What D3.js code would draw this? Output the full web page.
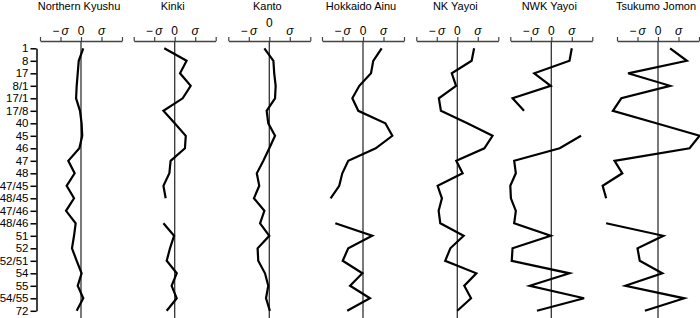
<!DOCTYPE html>
<html>
<head>
<meta charset="utf-8">
<script src="https://cdn.jsdelivr.net/npm/d3@7"></script>
<style>
  body { margin: 0; background: #fff; }
  svg { font-family: Arial, "Liberation Sans", sans-serif; }
</style>
</head>
<body>
<div id="chart"></div>
<script>
// row categories (top to bottom)
var rows = ["1", "8", "17", "8/1", "17/1", "17/8", "40", "45", "46", "47", "48",
    "47/45", "48/45", "47/46", "48/46", "51", "52", "52/51", "54", "55", "54/55", "72"];

var panels = ["Northern Kyushu", "Kinki", "Kanto", "Hokkaido Ainu", "NK Yayoi", "NWK Yayoi", "Tsukumo Jomon"];

var tickLabels = ["\u2212\u2009\u03c3", "0", "\u03c3"];
var tickValues = [-1, 0, 1];

// values in sigma units, null = no data
var northernKyushu = [0.11, -0.11, -0.16, -0.21, -0.24, -0.05, 0.03, 0.06, -0.08, -0.62, -0.31,
    -0.7, -0.34, -0.73, -0.26, -0.34, -0.44, -0.21, 0.03, -0.16, 0.11, -0.21];
var kinki = [-0.51, 0.58, 0.26, 0.78, 0.39, -0.55, 0, 0.54, 0.5, -0.2, -0.26,
    -0.55, -0.44, null, -0.55, -0.03, -0.23, -0.39, 0.1, -0.15, 0.1, -0.39];
var kanto = [-0.24, 0.2, 0.24, 0.31, 0.28, -0.13, -0.05, 0.28, 0, -0.29, -0.61,
    -0.49, -0.75, -0.24, -0.45, 0, -0.57, -0.54, -0.21, -0.05, -0.16, 0.03];
var hokkaidoAinu = [0.91, 0.5, 0.39, -0.18, -0.52, -0.23, 1.09, 1.43, 0.62, -0.72, -1.01,
    -1.16, -1.58, null, -1.35, 0.45, -0.72, -0.99, -0.03, -0.63, 0.34, -0.77];
var nkYayoi = [0.82, 0.7, -0.27, -0.06, -0.9, -0.8, 0.49, 1.72, 1.32, -0.05, 0.26,
    -0.96, -0.75, -0.91, -0.83, 0.31, -0.34, -0.59, 0.93, 0.34, 0.67, 0];
var nwkYayoi = [1.0, 0.89, -0.83, -0.03, -1.89, -1.33, null, 1.45, 0.41, -1.81, -1.73,
    -2.0, -1.97, -1.73, -1.81, -0.03, -1.89, -1.93, 0.89, -1.05, 1.6, -0.7];
var tsukumoJomon = [0.59, 1.41, -1.46, 0.59, -1.79, -2.2, -0.08, 2.03, 1.54, -2.12, -1.74,
    -2.7, -2.53, null, -2.53, 0.26, -1.0, -0.89, 0.21, -1.59, 1.28, -0.64];

var series = [northernKyushu, kinki, kanto, hokkaidoAinu, nkYayoi, nwkYayoi, tsukumoJomon];

// layout
var W = 700, H = 318;
var zeroX = [81, 174.7, 269.3, 363, 457.3, 551.3, 658];
var sigmaPx = 20.5;
var axisY = 41;

var svg = d3.select("#chart").append("svg")
    .attr("width", W)
    .attr("height", H);

var y = d3.scalePoint()
    .domain(rows)
    .range([48.3, 310.8]);

// left row axis
var yAxis = svg.append("g")
    .attr("transform", "translate(36.5,0)")
    .call(d3.axisLeft(y).tickSize(6).tickPadding(2).tickSizeOuter(0));
yAxis.select(".domain").attr("stroke", "#000").attr("stroke-width", 1.5);
yAxis.selectAll(".tick line").attr("stroke", "#000").attr("stroke-width", 1.5);
yAxis.selectAll(".tick text")
    .attr("font-size", "11.5px")
    .attr("fill", "#000");

panels.forEach(function (name, i) {
    var z = zeroX[i];
    var x = d3.scaleLinear()
        .domain([-2, 2])
        .range([z - 2 * sigmaPx, z + 2 * sigmaPx]);

    var g = svg.append("g");

    // title (keep inside the right edge)
    var title = g.append("text")
        .attr("x", z - 2)
        .attr("y", 10)
        .attr("text-anchor", "middle")
        .attr("font-size", "11px")
        .text(name);
    var tw = title.node().getComputedTextLength();
    if (z - 2 + tw / 2 > W - 3) title.attr("x", W - 3 - tw / 2);

    // top axis
    var ax = g.append("g")
        .attr("transform", `translate(0,${axisY})`)
        .call(d3.axisTop(x).tickValues([-2, -1, 0, 1, 2]).tickSize(4).tickSizeOuter(0).tickFormat(""));
    ax.select(".domain").attr("stroke", "#444").attr("stroke-width", 1.5);
    ax.selectAll(".tick line").attr("stroke", "#444").attr("stroke-width", 1.2);

    tickValues.forEach(function (v, k) {
        var lift = (i === 2 && v === 0) ? 8 : 0;
        g.append("text")
            .attr("x", x(v))
            .attr("y", 35 - lift)
            .attr("text-anchor", "middle")
            .attr("font-size", "12px")
            .attr("font-style", v === 0 ? "normal" : "italic")
            .text(tickLabels[k]);
    });

    // zero line
    g.append("line")
        .attr("x1", x(0))
        .attr("x2", x(0))
        .attr("y1", axisY)
        .attr("y2", H)
        .attr("stroke", "#333")
        .attr("stroke-width", 1.3);

    // profile
    var line = d3.line()
        .defined(function (d) { return d != null; })
        .x(function (d) { return x(d); })
        .y(function (d, j) { return y(rows[j]); });

    g.append("path")
        .datum(series[i])
        .attr("fill", "none")
        .attr("stroke", "#000")
        .attr("stroke-width", 2.2)
        .attr("stroke-linejoin", "miter")
        .attr("d", line);
});
</script>
</body>
</html>
